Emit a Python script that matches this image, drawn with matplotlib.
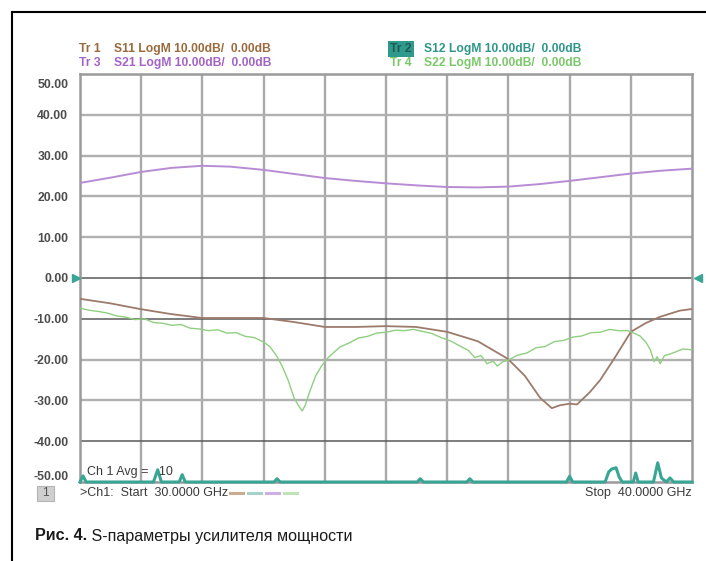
import matplotlib
matplotlib.use('Agg')
import matplotlib.pyplot as plt
from matplotlib.lines import Line2D
from matplotlib.patches import Rectangle
import matplotlib.transforms as mtransforms

# ---------------- data ----------------
y_ticks = [50, 40, 30, 20, 10, 0, -10, -20, -30, -40, -50]
y_tick_labels = ["50.00", "40.00", "30.00", "20.00", "10.00", "0.00",
                 "-10.00", "-20.00", "-30.00", "-40.00", "-50.00"]
x_grid = [30, 31, 32, 33, 34, 35, 36, 37, 38, 39, 40]
dark_lines = [0, -10, -40]

freq_s21 = [30.0, 30.5, 31.0, 31.5, 32.0, 32.45, 33.0, 33.5, 34.0, 34.5,
            35.0, 35.5, 36.0, 36.5, 37.0, 37.5, 38.0, 38.5, 39.0, 39.5, 40.0]
s21 = [23.3, 24.6, 26.0, 27.0, 27.5, 27.3, 26.5, 25.5, 24.5, 23.8,
       23.2, 22.7, 22.3, 22.2, 22.4, 23.0, 23.8, 24.7, 25.6, 26.3, 26.8]

freq_s11 = [30.0, 30.49, 30.98, 31.47, 31.99, 32.5, 33.0, 33.5, 34.0, 34.5,
            35.0, 35.49, 36.0, 36.5, 36.99, 37.27, 37.52, 37.71, 37.84, 38.0,
            38.12, 38.33, 38.5, 38.74, 39.0, 39.25, 39.48, 39.8, 40.0]
s11 = [-5.1, -6.2, -7.6, -8.8, -9.8, -9.8, -9.8, -10.8, -12.0, -12.0,
       -11.8, -12.0, -13.2, -15.5, -19.8, -24.0, -29.4, -31.9, -31.2, -30.8,
       -31.0, -28.0, -25.0, -19.5, -13.2, -11.0, -9.5, -8.0, -7.6]

freq_s22 = [30.00, 30.15, 30.30, 30.45, 30.60, 30.75, 30.90, 31.05, 31.20, 31.35,
            31.50, 31.65, 31.80, 31.95, 32.10, 32.25, 32.40, 32.55, 32.70, 32.85,
            33.00, 33.10, 33.20, 33.30, 33.40, 33.50, 33.58, 33.63, 33.68, 33.75,
            33.85, 33.95, 34.05, 34.15, 34.25, 34.40, 34.55, 34.70, 34.85, 35.00,
            35.15, 35.30, 35.45, 35.60, 35.75, 35.90, 36.05, 36.20, 36.35, 36.45,
            36.55, 36.65, 36.75, 36.82, 36.90, 37.00, 37.15, 37.30, 37.45, 37.60,
            37.75, 37.90, 38.05, 38.20, 38.35, 38.50, 38.65, 38.80, 38.95, 39.05,
            39.15, 39.25, 39.32, 39.38, 39.43, 39.48, 39.55, 39.65, 39.75, 39.85,
            40.00]
s22 = [-7.4, -7.9, -8.2, -8.6, -9.3, -9.6, -10.2, -10.0, -10.9, -11.1,
       -11.6, -11.4, -12.3, -12.5, -12.9, -12.7, -13.5, -13.4, -14.3, -14.6,
       -15.7, -16.8, -18.8, -21.5, -25.0, -29.5, -31.5, -32.6, -31.2, -28.0,
       -24.0, -21.5, -19.6, -18.2, -16.9, -15.9, -14.7, -14.3, -13.5, -13.3,
       -12.8, -12.9, -12.6, -13.1, -13.6, -14.6, -15.4, -16.6, -17.8, -19.5,
       -19.0, -21.0, -20.4, -21.6, -20.6, -20.1, -18.9, -18.4, -17.1, -16.8,
       -15.6, -15.3, -14.5, -14.2, -13.4, -13.3, -12.6, -12.9, -12.9, -13.5,
       -14.2, -15.8, -17.6, -20.5, -19.3, -21.0, -19.0, -18.6, -18.0, -17.4,
       -17.6]

freq_s12 = [30.00, 30.05, 30.10, 31.20, 31.27, 31.33, 31.62, 31.67, 31.72,
            33.17, 33.22, 33.27, 35.51, 35.56, 35.61, 36.32, 36.37, 36.42,
            37.95, 38.00, 38.05, 38.58, 38.64, 38.69, 38.76, 38.81, 38.86,
            39.04, 39.08, 39.12, 39.37, 39.44, 39.50, 39.58, 39.64, 39.70, 40.00]
s12 = [-50, -48.5, -50, -50, -47.0, -50, -50, -48.2, -50,
       -50, -49.2, -50, -50, -49.2, -50, -50, -49.2, -50,
       -50, -48.6, -50, -50, -47.5, -46.8, -46.5, -48.8, -50,
       -50, -47.8, -50, -50, -45.3, -49.0, -50, -49.0, -50, -50]

trace_labels = ["Tr 1", "Tr 2", "Tr 3", "Tr 4"]
trace_texts = ["S11 LogM 10.00dB/  0.00dB", "S12 LogM 10.00dB/  0.00dB",
               "S21 LogM 10.00dB/  0.00dB", "S22 LogM 10.00dB/  0.00dB"]
start_text = ">Ch1:  Start  30.0000 GHz"
stop_text = "Stop  40.0000 GHz"
avg_text = "Ch 1 Avg =   10"
caption_bold = "Рис. 4."
caption_rest = " S-параметры усилителя мощности"

# ---------------- style ----------------
plt.rcParams['font.family'] = ['Liberation Sans', 'DejaVu Sans']
W, H = 706, 561
C_S11 = '#9c7b6b'
C_S12 = '#38a595'
C_S21 = '#b88cd4'
C_S22 = '#8fcf80'
T_S11 = '#9a6a3c'
T_S12 = '#2f968a'
T_S21 = '#a463c4'
T_S22 = '#7ac86a'

fig = plt.figure(figsize=(W / 100, H / 100), dpi=100)
fig.patch.set_facecolor('white')


def fx(x):
    return x / W


def fy(y):
    return 1 - y / H


# outer frame lines (left and top)
fig.add_artist(Line2D([fx(12), fx(12)], [fy(12), 0], color='black', lw=1.5,
                      transform=fig.transFigure))
fig.add_artist(Line2D([fx(12), 1], [fy(12), fy(12)], color='black', lw=1.5,
                      transform=fig.transFigure))

ax = fig.add_axes([fx(80), fy(482), 612 / W, 408 / H])
ax.set_xlim(30, 40)
ax.set_ylim(-50, 50)
ax.set_xticks(x_grid)
ax.set_xticklabels([])
ax.set_yticks(y_ticks)
ax.set_yticklabels(y_tick_labels, fontsize=8.8, fontweight='bold', color='#4d4d4d')
ax.tick_params(axis='both', length=0, pad=8.5)
for s in ax.spines.values():
    s.set_color('#9a9a9a')
    s.set_linewidth(1.8)

for f in x_grid[1:-1]:
    ax.axvline(f, color='#a9a9a9', lw=1.7, zorder=1)
for v in y_ticks[1:-1]:
    if v in dark_lines:
        ax.axhline(v, color='#5a5a5a', lw=1.1, zorder=1.5)
    else:
        ax.axhline(v, color='#b0b0b0', lw=1.7, zorder=1)

# shift top and bottom tick labels inward
labels = ax.get_yticklabels()
labels[0].set_transform(labels[0].get_transform() +
                        mtransforms.ScaledTranslation(0, -7 / 72, fig.dpi_scale_trans))
labels[-1].set_transform(labels[-1].get_transform() +
                         mtransforms.ScaledTranslation(0, 5 / 72, fig.dpi_scale_trans))

ax.plot(freq_s21, s21, color=C_S21, lw=1.4, zorder=3)
ax.plot(freq_s11, s11, color=C_S11, lw=1.3, zorder=3)
ax.plot(freq_s22, s22, color=C_S22, lw=1.0, zorder=3)
ax.plot(freq_s12, s12, color=C_S12, lw=2.2, zorder=4, clip_on=False)

# reference markers
left_tr = ax.transData + mtransforms.ScaledTranslation(-3 / 72, 0, fig.dpi_scale_trans)
right_tr = ax.transData + mtransforms.ScaledTranslation(4 / 72, 0, fig.dpi_scale_trans)
ax.plot([30], [0], marker='>', ms=6, color=C_S12, clip_on=False, transform=left_tr, zorder=5)
ax.plot([40], [0], marker='<', ms=6, color=C_S12, clip_on=False, transform=right_tr, zorder=5)

ax.text(0.012, 0.024, avg_text, transform=ax.transAxes, fontsize=9,
        color='#3a3a3a', va='center', ha='left', zorder=6)

# trace header texts
fs = 8.7
fig.text(fx(79), fy(49), trace_labels[0], fontsize=fs, fontweight='bold', color=T_S11, va='center')
fig.text(fx(114), fy(49), trace_texts[0], fontsize=fs, fontweight='bold', color=T_S11, va='center')
fig.text(fx(79), fy(63), trace_labels[2], fontsize=fs, fontweight='bold', color=T_S21, va='center')
fig.text(fx(114), fy(63), trace_texts[2], fontsize=fs, fontweight='bold', color=T_S21, va='center')
fig.text(fx(390), fy(49), trace_labels[1], fontsize=fs, fontweight='bold', color='#1e5a52',
         va='center', bbox=dict(boxstyle='square,pad=0.2', fc='#2e9a8c', ec='none'))
fig.text(fx(424), fy(49), trace_texts[1], fontsize=fs, fontweight='bold', color=T_S12, va='center')
fig.text(fx(390), fy(63), trace_labels[3], fontsize=fs, fontweight='bold', color=T_S22, va='center')
fig.text(fx(424), fy(63), trace_texts[3], fontsize=fs, fontweight='bold', color=T_S22, va='center')

# bottom status line
fig.add_artist(Rectangle((fx(37), fy(501)), 17 / W, 15 / H, transform=fig.transFigure,
                         fc='#cfcfcf', ec='#b5b5b5', lw=0.8))
fig.text(fx(45.5), fy(493.5), "1", fontsize=8.5, color='#555555', ha='center', va='center')
fig.text(fx(80), fy(493), start_text, fontsize=9, color='#3a3a3a', va='center')
for i, c in enumerate(['#c8ab90', '#a5d3cc', '#cdb0e2', '#bfe3b6']):
    x0 = 230 + i * 18
    fig.add_artist(Line2D([fx(x0), fx(x0 + 13)], [fy(493), fy(493)], color=c, lw=2.2,
                          transform=fig.transFigure))
fig.text(fx(692), fy(493), stop_text, fontsize=9, color='#3a3a3a', va='center', ha='right')

# caption
t1 = fig.text(fx(35), fy(536), caption_bold, fontsize=11.6, fontweight='bold',
              color='#1a1a1a', va='center', ha='left')
fig.canvas.draw()
bb = t1.get_window_extent()
fig.text(bb.x1 / W, fy(536), caption_rest, fontsize=11.6, color='#1a1a1a',
         va='center', ha='left')

fig.savefig('out.png', dpi=100, facecolor='white')
